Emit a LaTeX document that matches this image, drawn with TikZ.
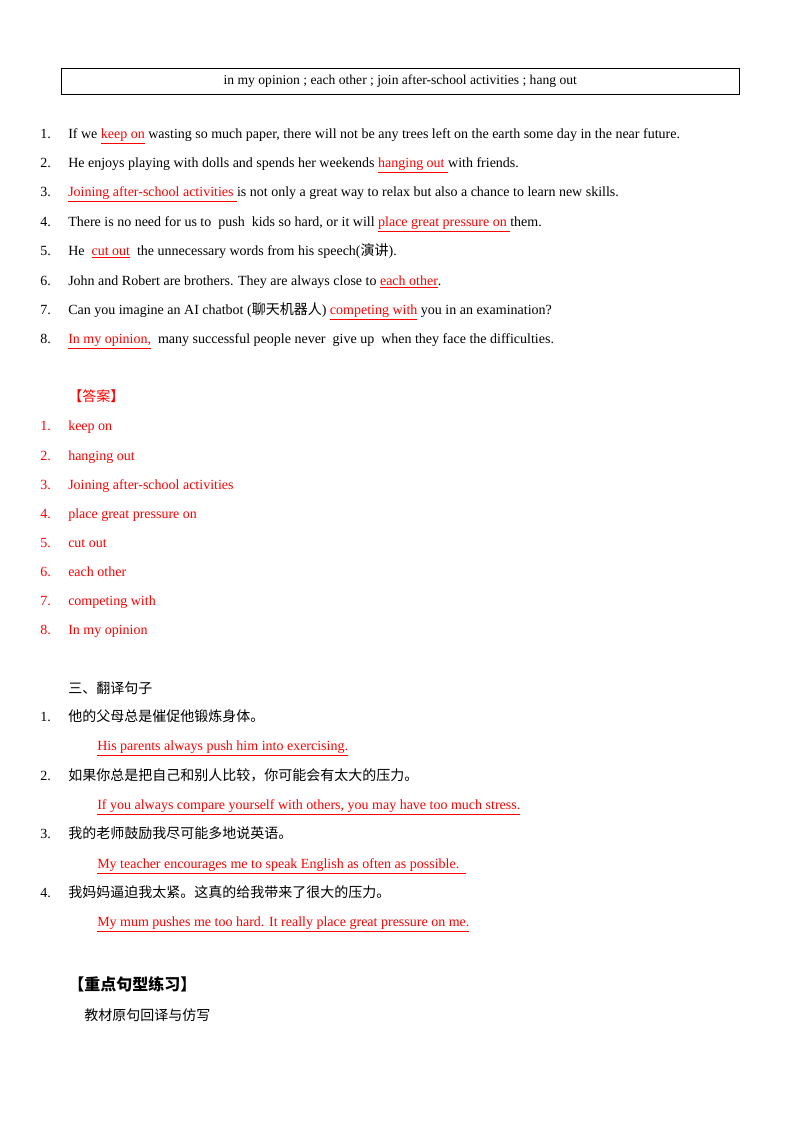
\documentclass[tikz,border=0pt]{standalone}
\usepackage{fontspec}
\setmainfont{Liberation Serif}
\newfontfamily\cjk{Noto Sans CJK SC}
\begin{document}
\begin{tikzpicture}[x=0.75pt,y=-0.75pt,
  t/.style={anchor=base west,inner sep=0pt,yshift=-3.5pt,font=\fontsize{10.5}{12}\selectfont},
  r/.style={t,text=red}]
\useasboundingbox (0,0) rectangle (800,1132);
\newcommand{\ru}[1]{\textcolor{red}{\underline{#1}}}
\node[draw,minimum width=678*0.75pt,minimum height=26*0.75pt,inner sep=0pt,anchor=north west,font=\fontsize{10.2}{12}\selectfont] (box) at (61,68) {in my opinion ; each other ; join after-school activities ; hang out};
\foreach \n/\y in {1/134,2/163,3/192,4/222,5/251,6/281,7/310,8/339}{\node[t] (n\n) at (40,\y) {\n.};}
\node[t] (s1) at (68,134) {If we \ru{keep on} wasting so much paper, there will not be any trees left on the earth some day in the near future.};
\node[t] (s2) at (68,163) {He enjoys playing with dolls and spends her weekends \ru{hanging out\ }with friends.};
\node[t] (s3) at (68,192) {\ru{Joining after-school activities\ }is not only a great way to relax but also a chance to learn new skills.};
\node[t] (s4) at (68,222) {There is no need for us to \ push \ kids so hard, or it will \ru{place great pressure on\ }them.};
\node[t] (s5) at (68,251) {He \ \ru{cut out} \ the unnecessary words from his speech({\cjk 演讲}).};
\node[t] (s6) at (68,281) {John and Robert are brothers. They are always close to \ru{each other}.};
\node[t] (s7) at (68,310) {Can you imagine an AI chatbot ({\cjk 聊天机器人}) \ru{competing with} you in an examination?};
\node[t] (s8) at (68,339) {\ru{In my opinion,}\ \ many successful people never \ give up \ when they face the difficulties.};
\node[r] (ans) at (68,397) {\cjk 【答案】};
\foreach \n/\y/\s in {1/426/keep on,2/456/hanging out,3/485/Joining after-school activities,4/514/place great pressure on,5/543/cut out,6/572/each other,7/601/competing with,8/630/In my opinion}{
  \node[r] (an\n) at (40,\y) {\n.};
  \node[r] (a\n) at (68,\y) {\s};}
\node[t] (h3) at (68,689) {\cjk 三、翻译句子};
\foreach \n/\y in {1/717,2/776,3/834,4/893}{\node[t] (m\n) at (40,\y) {\n.};}
\node[t] (c1) at (68,717) {\cjk 他的父母总是催促他锻炼身体。};
\node[t] (e1) at (97,746) {\ru{His parents always push him into exercising.}};
\node[t] (c2) at (68,776) {\cjk 如果你总是把自己和别人比较，你可能会有太大的压力。};
\node[t] (e2) at (97,805) {\ru{If you always compare yourself with others, you may have too much stress.}};
\node[t] (c3) at (68,834) {\cjk 我的老师鼓励我尽可能多地说英语。};
\node[t] (e3) at (97,864) {\ru{My teacher encourages me to speak English as often as possible.\ \ }};
\node[t] (c4) at (68,893) {\cjk 我妈妈逼迫我太紧。这真的给我带来了很大的压力。};
\node[t] (e4) at (97,922) {\ru{My mum pushes me too hard. It really place great pressure on me.}};
\node[t,font=\fontsize{12}{14}\selectfont\cjk\bfseries] (h4) at (68,986) {【重点句型练习】};
\node[t,font=\fontsize{10.5}{12}\selectfont\cjk] (h5) at (84,1016) {教材原句回译与仿写};
\end{tikzpicture}
\end{document}
